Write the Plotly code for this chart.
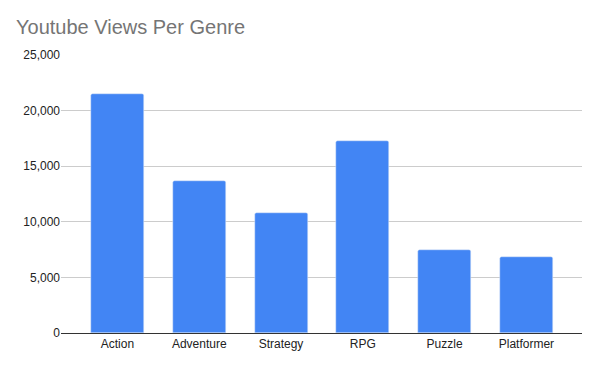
import plotly.graph_objects as go

genres = ["Action", "Adventure", "Strategy", "RPG", "Puzzle", "Platformer"]
views = [21500, 13700, 10800, 17300, 7500, 6800]
y_ticks = [0, 5000, 10000, 15000, 20000, 25000]
y_tick_labels = ["0", "5,000", "10,000", "15,000", "20,000", "25,000"]

fig = go.Figure(go.Bar(
    x=genres, y=views, marker=dict(color="#4285F4", cornerradius=2),
    width=0.648, hoverinfo="x+y",
))

# page body has an 8px margin, so the figure is sized/offset accordingly
fig.update_layout(
    width=591, height=360,
    margin=dict(l=53, r=17, t=47, b=35),
    paper_bgcolor="white", plot_bgcolor="white",
    font=dict(family="Arial, Liberation Sans, sans-serif", size=12, color="#222222"),
    title=dict(text="Youtube Views Per Genre", x=8/591, xanchor="left",
               y=1 - 19/360, yanchor="middle",
               font=dict(family="Arial, Liberation Sans, sans-serif", size=20, color="#757575")),
    showlegend=False,
    bargap=0,
)
fig.update_xaxes(range=[-0.69, 5.68], showgrid=False, showline=True, linecolor="#333333",
                 linewidth=1, ticks="", ticklen=0, tickfont=dict(size=12, color="#222222"))
fig.update_yaxes(range=[0, 25000], tickvals=y_ticks, ticktext=y_tick_labels,
                 showgrid=True, gridcolor="#cccccc", gridwidth=1, zeroline=False,
                 showline=False, ticks="", tickfont=dict(size=12, color="#222222"))

fig.write_html("out.html")
